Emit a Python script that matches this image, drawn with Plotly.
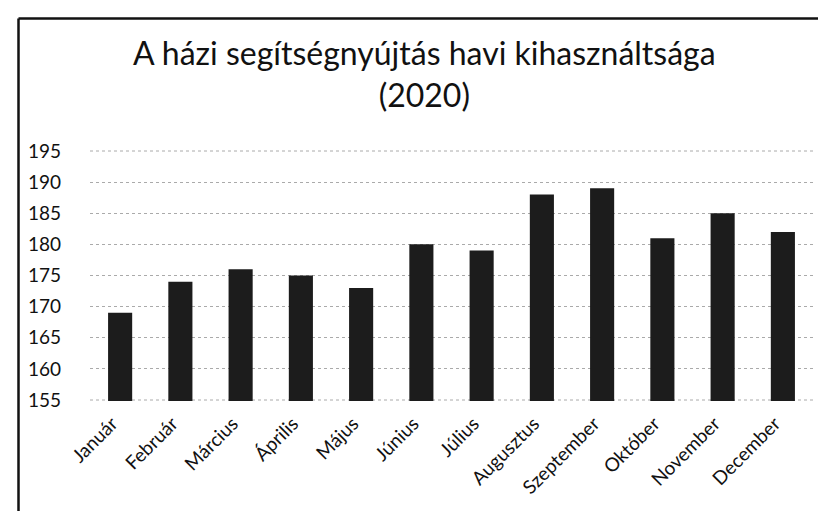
import plotly.graph_objects as go

months = ["Január", "Február", "Március", "Április", "Május", "Június",
          "Július", "Augusztus", "Szeptember", "Október", "November", "December"]
values = [169, 174, 176, 175, 173, 180, 179, 188, 189, 181, 185, 182]
y_ticks = [155, 160, 165, 170, 175, 180, 185, 190, 195]

FONT = "Lato"
GRID = "#aaaaaa"

fig = go.Figure(go.Bar(
    x=months, y=values,
    marker=dict(color="#1c1c1c", line=dict(width=0)),
    width=0.4,
))

L, R, T, B = 82, 21, 142, 118
W, H = 826, 511
pw, ph = W - L - R, H - T - B
px = lambda v: (v - L) / pw
py = lambda v: (H - B - v) / ph

edge_lines = [dict(type="line", xref="paper", yref="y", x0=0, x1=1,
                   y0=v, y1=v, layer="below",
                   line=dict(color=GRID, width=1, dash="dot"))
              for v in (y_ticks[0], y_ticks[-1])]

fig.update_layout(
    width=W, height=H,
    margin=dict(l=L, r=R, t=T, b=B),
    paper_bgcolor="white", plot_bgcolor="white",
    showlegend=False,
    font=dict(family=FONT, color="#111"),
    bargap=0.6,
    xaxis=dict(
        tickangle=-45, tickfont=dict(size=19, color="#111"),
        showgrid=False, showline=False, ticks="", ticklabelstandoff=7,
        ticklabelshift=-8,
    ),
    yaxis=dict(
        range=[154.84, 195.16], tickvals=y_ticks,
        tickfont=dict(size=19, color="#111"),
        showgrid=True, gridcolor=GRID, griddash="dot", gridwidth=1,
        zeroline=False, showline=False, ticks="", ticklabelstandoff=28,
    ),
    annotations=[dict(
        text="A házi segítségnyújtás havi kihasználtsága<br>(2020)",
        xref="paper", yref="paper", x=px(416), y=py(65),
        xanchor="center", yanchor="middle", showarrow=False,
        font=dict(family=FONT, size=32, color="#111"),
    )],
    shapes=edge_lines + [
        dict(type="line", xref="paper", yref="paper",
             x0=px(10.5), x1=px(10.5), y0=py(H), y1=py(10.5),
             line=dict(color="#111", width=2.5)),
        dict(type="line", xref="paper", yref="paper",
             x0=px(10.5), x1=px(W), y0=py(10.5), y1=py(10.5),
             line=dict(color="#111", width=2.5)),
    ],
)

fig.write_html("out.html")
